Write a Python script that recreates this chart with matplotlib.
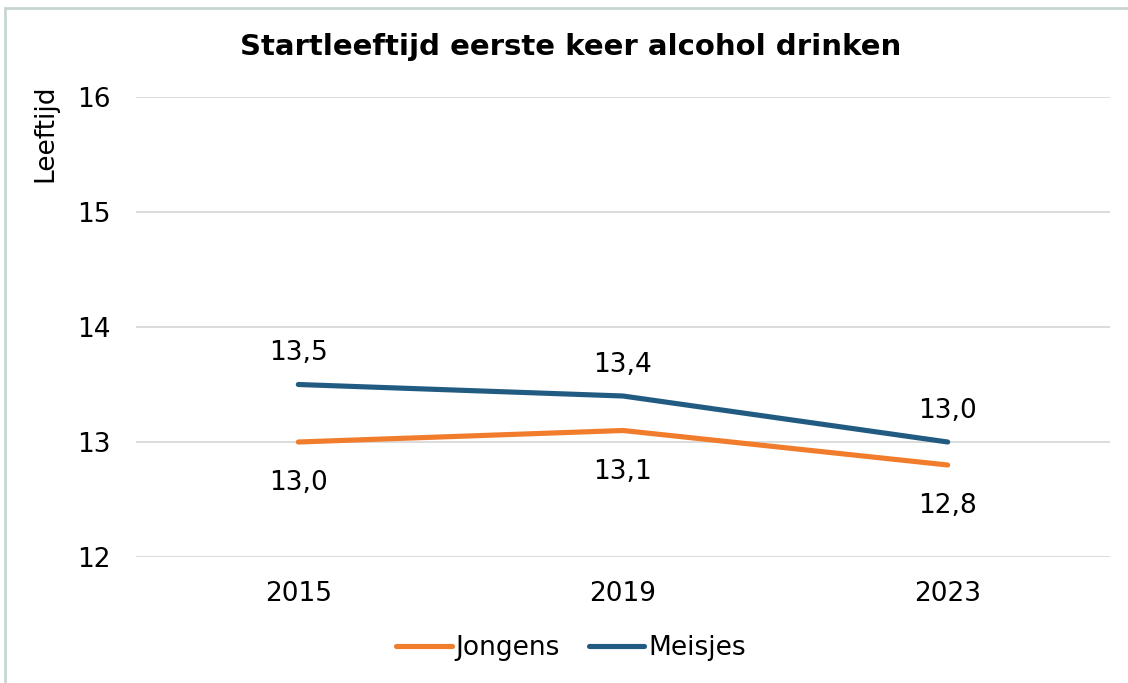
import matplotlib
matplotlib.use("Agg")
import matplotlib.pyplot as plt
from matplotlib.patches import Rectangle

years = ["2015", "2019", "2023"]
jongens = [13.0, 13.1, 12.8]
meisjes = [13.5, 13.4, 13.0]
yticks = [12, 13, 14, 15, 16]

plt.rcParams['font.family'] = ['DejaVu Sans']

W, H = 1128, 683
fig = plt.figure(figsize=(W/100, H/100), dpi=100)
ax = fig.add_axes([136/W, 1-557/H, (1110-136)/W, (557-97)/H])

orange = "#F07C2C"
blue = "#225B82"
x = list(range(len(years)))
ax.plot(x, jongens, color=orange, lw=3.7, solid_capstyle='round', label="Jongens", zorder=3)
ax.plot(x, meisjes, color=blue, lw=3.7, solid_capstyle='round', label="Meisjes", zorder=3)

FS = 19
for i, v in enumerate(meisjes):
    ax.annotate(f"{v:.1f}".replace(".", ","), (i, v), xytext=(0, 17.3), textcoords='offset points',
                ha='center', va='baseline', fontsize=FS)
for i, v in enumerate(jongens):
    ax.annotate(f"{v:.1f}".replace(".", ","), (i, v), xytext=(0, -34.8), textcoords='offset points',
                ha='center', va='baseline', fontsize=FS)

ax.set_xlim(-0.5, 2.5)
ax.set_ylim(12, 16)
ax.set_yticks(yticks)
ax.set_yticklabels([str(t) for t in yticks], fontsize=FS)
ax.set_xticks(x)
ax.set_xticklabels(years, fontsize=FS)
ax.grid(axis='y', color='#D9D9D9', lw=1.3)
ax.set_axisbelow(True)
for s in ax.spines.values():
    s.set_visible(False)
ax.tick_params(length=0)
ax.tick_params(axis='y', pad=18)
ax.tick_params(axis='x', pad=17)

fig.text(571/W, 1-47/H, "Startleeftijd eerste keer alcohol drinken", ha='center', va='center',
         fontsize=21, fontweight='bold')
fig.text(45/W, 1-85/H, "Leeftijd", rotation=90, ha='center', va='top', fontsize=FS)

leg = fig.legend(loc='center', bbox_to_anchor=(571/W, 1-648/H), ncol=2, frameon=False,
                 fontsize=FS, handlelength=2.1, handletextpad=0.15, columnspacing=1.1)

fig.patches.append(Rectangle((5/W, -0.1), 1.0, 1.1 - 8/H, transform=fig.transFigure,
                             fill=False, edgecolor='#C9D6CF', lw=2))
fig.savefig("out.png", dpi=100)
